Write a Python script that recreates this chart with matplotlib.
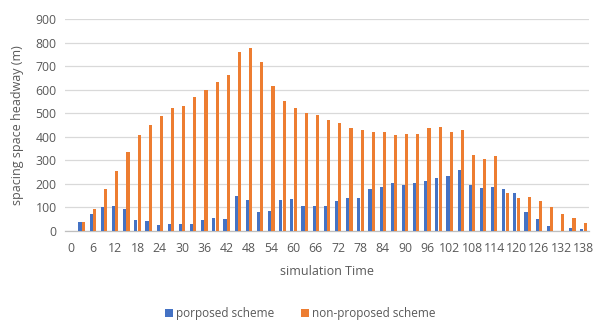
import matplotlib
matplotlib.use("Agg")
import matplotlib.pyplot as plt
import numpy as np

# simulation time steps (every 3 units)
times = list(range(0, 139, 3))

proposed = [0, 38, 71, 100, 106, 92, 47, 42, 25, 31, 31, 31, 47, 57, 51,
            147, 132, 82, 86, 132, 136, 106, 106, 106, 126, 141, 141, 177,
            187, 202, 197, 202, 212, 226, 232, 257, 197, 181, 187, 177, 161,
            81, 51, 21, 0, 11, 7]

non_proposed = [0, 38, 92, 177, 256, 335, 406, 451, 487, 522, 530, 571, 598,
                632, 662, 762, 777, 717, 617, 552, 522, 501, 491, 471, 457,
                437, 427, 421, 421, 406, 412, 412, 437, 441, 421, 431, 321,
                307, 317, 161, 141, 146, 126, 100, 71, 55, 35]

y_ticks = [0, 100, 200, 300, 400, 500, 600, 700, 800, 900]

BLUE = "#4472C4"
ORANGE = "#ED7D31"
TEXT = "#595959"
GRID = "#D9D9D9"

plt.rcParams["font.family"] = ["Open Sans", "DejaVu Sans"]

fig = plt.figure(figsize=(5.98, 3.23), dpi=100)
ax = fig.add_axes([0.1087, 0.2848, 0.8763, 0.6562])

idx = np.arange(len(times))
w = 0.28
ax.bar(idx - 0.15, proposed, width=w, color=BLUE, label="porposed scheme", zorder=3)
ax.bar(idx + 0.15, non_proposed, width=w, color=ORANGE, label="non-proposed scheme", zorder=3)

ax.set_xlim(-0.5, len(times) - 0.5)
ax.set_ylim(0, 900)
ax.set_yticks(y_ticks)
ax.set_yticklabels([str(v) for v in y_ticks])
ax.set_xticks(idx[::2])
ax.set_xticklabels([str(t) for t in times[::2]])

ax.grid(axis="y", color=GRID, linewidth=0.9, zorder=0)
for s in ["top", "right", "left"]:
    ax.spines[s].set_visible(False)
ax.spines["bottom"].set_color("#BFBFBF")
ax.spines["bottom"].set_linewidth(0.9)

ax.tick_params(axis="both", length=0, labelsize=8.8, colors=TEXT, pad=8)
ax.tick_params(axis="y", pad=6)

ax.set_xlabel("simulation Time", fontsize=9, color=TEXT, labelpad=7)
ax.set_ylabel("spacing space headway (m)", fontsize=9, color=TEXT, labelpad=8)

fig.legend(loc="center", bbox_to_anchor=(0.502, 0.028), ncol=2, frameon=False,
           fontsize=8.5, labelcolor=TEXT, handlelength=0.7, handleheight=0.7,
           handletextpad=0.3, columnspacing=2.2)

fig.savefig("out.png", dpi=100)
